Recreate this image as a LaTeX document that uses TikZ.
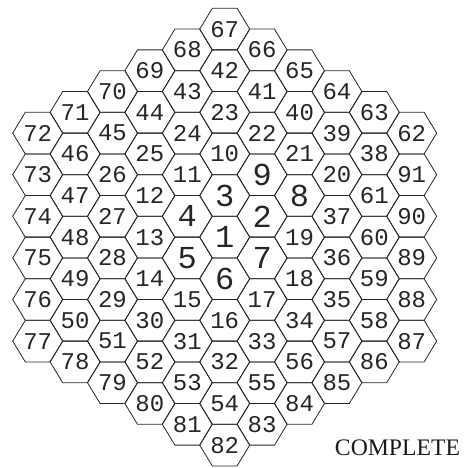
\documentclass[tikz,border=0pt]{standalone}
\usepackage{fontspec}
\setmainfont{Liberation Serif}
\newfontfamily\hexfont{Liberation Mono}
\begin{document}
\begin{tikzpicture}[x=1pt,y=-1pt,
  hexedge/.style={draw=black!85, line width=0.8pt, line join=miter},
  numlabel/.style={font=\hexfont\fontsize{24}{24}\selectfont, inner sep=0pt, text=black!85},
  biglabel/.style={font=\hexfont\fontsize{32}{32}\selectfont, inner sep=0pt, text=black!85},
  statuslabel/.style={font=\fontsize{23.7}{24}\selectfont, inner sep=0pt, anchor=base, text=black!90}]
\useasboundingbox (0,0) rectangle (465,468);
\foreach \n/\c/\r in {
 1/0/0,
 2/1/-0.5, 3/0/-1, 4/-1/-0.5, 5/-1/0.5, 6/0/1, 7/1/0.5,
 8/2/-1, 9/1/-1.5, 10/0/-2, 11/-1/-1.5, 12/-2/-1, 13/-2/0, 14/-2/1, 15/-1/1.5, 16/0/2, 17/1/1.5, 18/2/1, 19/2/0,
 20/3/-1.5, 21/2/-2, 22/1/-2.5, 23/0/-3, 24/-1/-2.5, 25/-2/-2, 26/-3/-1.5, 27/-3/-0.5, 28/-3/0.5, 29/-3/1.5, 30/-2/2, 31/-1/2.5, 32/0/3, 33/1/2.5, 34/2/2, 35/3/1.5, 36/3/0.5, 37/3/-0.5,
 38/4/-2, 39/3/-2.5, 40/2/-3, 41/1/-3.5, 42/0/-4, 43/-1/-3.5, 44/-2/-3, 45/-3/-2.5, 46/-4/-2, 47/-4/-1, 48/-4/0, 49/-4/1, 50/-4/2, 51/-3/2.5, 52/-2/3, 53/-1/3.5, 54/0/4, 55/1/3.5, 56/2/3, 57/3/2.5, 58/4/2, 59/4/1, 60/4/0, 61/4/-1,
 62/5/-2.5, 63/4/-3, 64/3/-3.5, 65/2/-4, 66/1/-4.5, 67/0/-5, 68/-1/-4.5, 69/-2/-4, 70/-3/-3.5, 71/-4/-3, 72/-5/-2.5, 73/-5/-1.5, 74/-5/-0.5, 75/-5/0.5, 76/-5/1.5, 77/-5/2.5, 78/-4/3, 79/-3/3.5, 80/-2/4, 81/-1/4.5, 82/0/5, 83/1/4.5, 84/2/4, 85/3/3.5, 86/4/3, 87/5/2.5, 88/5/1.5, 89/5/0.5, 90/5/-0.5, 91/5/-1.5} {
  \pgfmathsetmacro\cx{224.7+\c*37.4}
  \pgfmathsetmacro\cy{237.1+\r*41.6}
  \draw[hexedge] (\cx-25,\cy) -- ++(12.6,-20.8) -- ++(24.8,0) -- ++(12.6,20.8) -- ++(-12.6,20.8) -- ++(-24.8,0) -- cycle;
  \ifnum\n<10 \def\lab{biglabel}\else\def\lab{numlabel}\fi
  \node[\lab] (h\n) at (\cx,\cy) {\n};
}
\node[statuslabel] (status) at (397.5,455.7) {COMPLETE};
\end{tikzpicture}
\end{document}
